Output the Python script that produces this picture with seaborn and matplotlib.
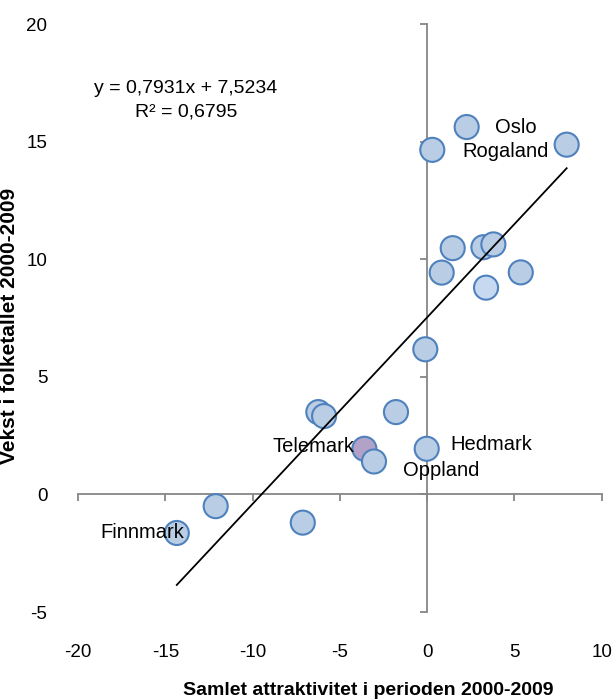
import numpy as np
import pandas as pd
import matplotlib
matplotlib.use("Agg")
import matplotlib.pyplot as plt
import seaborn as sns

# data
attraktivitet = [2.27, 0.30, 8.00, 1.47, 3.23, 3.80, 0.84, 5.37, 3.38, -0.10,
                 -6.23, -5.90, -1.78, -3.59, -3.04, -0.02, -12.11, -14.34, -7.12]
vekst = [15.62, 14.65, 14.87, 10.47, 10.51, 10.63, 9.43, 9.44, 8.79, 6.17,
         3.50, 3.33, 3.50, 1.94, 1.40, 1.94, -0.50, -1.64, -1.20]
fylke = ["Oslo", "", "Rogaland", "", "", "", "", "", "", "",
         "", "", "", "Telemark", "Oppland", "Hedmark", "", "Finnmark", ""]
fill = ["#B9CDE5"] * 8 + ["#C6D9F1"] + ["#B9CDE5"] * 4 + ["#B3A2C7"] + ["#B9CDE5"] * 5

slope, intercept = 0.7931, 7.5234
r2 = 0.6795

df = pd.DataFrame({"x": attraktivitet, "y": vekst, "navn": fylke, "farge": fill})

plt.rcParams["font.family"] = ["Liberation Sans", "DejaVu Sans"]
plt.rcParams["axes.unicode_minus"] = False

fig = plt.figure(figsize=(6.16, 7), dpi=100)
pos = [0.1266, 0.1257, 0.85, 0.84]
ax = fig.add_axes(pos)

sns.scatterplot(data=df, x="x", y="y", hue="farge",
                palette={c: c for c in set(fill)}, legend=False, ax=ax,
                s=300, edgecolor="#4F81BD", linewidth=1.5, zorder=3)

# trendline from the reported equation
xl = np.array([df["x"].min(), df["x"].max()])
sns.lineplot(x=xl, y=slope * xl + intercept, color="black", linewidth=1.3, ax=ax, zorder=4)

ax.set_xlim(-20, 10)
ax.set_ylim(-5, 20)
ax.set_xticks(range(-20, 11, 5))
ax.set_yticks(range(-5, 21, 5))

# axes crossing at zero, tick marks only
for s in ["top", "right"]:
    ax.spines[s].set_visible(False)
ax.spines["left"].set_position(("data", 0))
ax.spines["bottom"].set_position(("data", 0))
for s in ["left", "bottom"]:
    ax.spines[s].set_color("#868686")
    ax.spines[s].set_linewidth(1.3)
ax.tick_params(colors="#868686", length=5, width=1.3, direction="out",
               labelleft=False, labelbottom=False)
ax.set_xlabel("")
ax.set_ylabel("")

# labels on an overlay so they sit at the outer edges
lab = fig.add_axes(pos, sharex=ax, sharey=ax)
lab.patch.set_visible(False)
for s in lab.spines.values():
    s.set_visible(False)
lab.tick_params(length=0, labelsize=13.5, labelcolor="black")
lab.tick_params(axis="x", pad=23)
lab.tick_params(axis="y", pad=22)
lab.set_xlabel("Samlet attraktivitet i perioden 2000-2009", fontsize=14,
               fontweight="bold", va="center")
lab.set_ylabel("Vekst i folketallet 2000-2009", fontsize=15,
               fontweight="bold", va="center")
lab.xaxis.set_label_coords(0.554, -0.133)
lab.yaxis.set_label_coords(-0.13, 0.486)

offsets = {"Oslo": (1.63, -0.04), "Rogaland": (-6.0, -0.29),
           "Telemark": (-5.24, 0.1), "Oppland": (1.66, -0.38),
           "Hedmark": (1.34, 0.19), "Finnmark": (-4.4, 0.02)}
for _, r in df[df["navn"] != ""].iterrows():
    dx, dy = offsets[r["navn"]]
    ax.text(r["x"] + dx, r["y"] + dy, r["navn"], fontsize=14.5, ha="left",
            va="center", zorder=5)

ax.text(0.206, 0.891, f"y = {slope:.4f}x + {intercept:.4f}".replace(".", ","),
        transform=ax.transAxes, fontsize=14, ha="center", va="center")
ax.text(0.206, 0.850, f"R² = {r2:.4f}".replace(".", ","),
        transform=ax.transAxes, fontsize=14, ha="center", va="center")

fig.savefig("out.png", dpi=100)
